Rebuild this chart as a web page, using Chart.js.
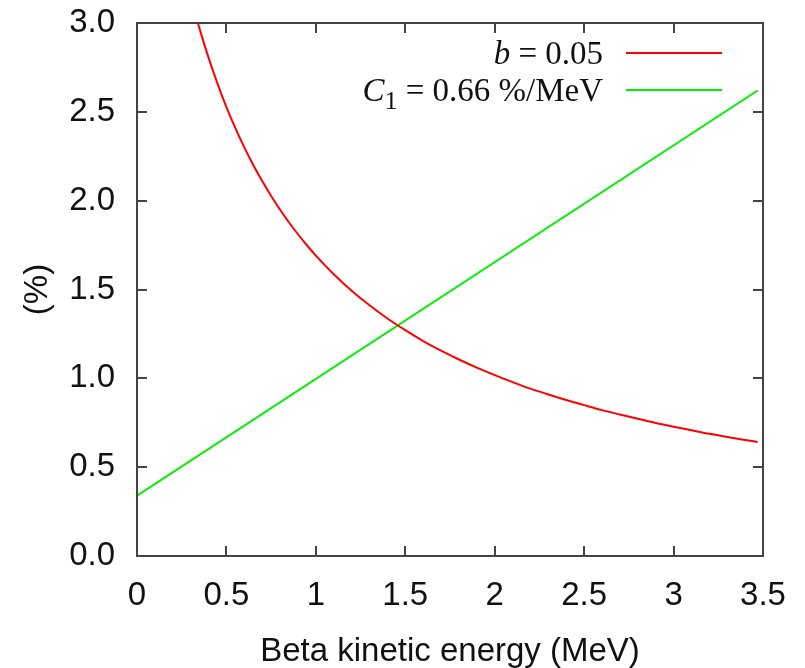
<!DOCTYPE html>
<html>
<head>
<meta charset="utf-8">
<script src="https://cdn.jsdelivr.net/npm/chart.js@4.4.1/dist/chart.umd.min.js"></script>
<style>
  html, body { margin: 0; padding: 0; background: #fff; }
  #chart { display: block; }
</style>
</head>
<body>
<canvas id="chart" width="805" height="668"></canvas>
<script>
// Fierz term, b = 0.05 (kinetic energy in MeV, size in %)
const fierzEnergy = [0.34, 0.36, 0.40, 0.45, 0.50, 0.55, 0.60, 0.65, 0.70, 0.75,
  0.80, 0.85, 0.90, 0.95, 1.00, 1.10, 1.20, 1.30, 1.40, 1.50,
  1.60, 1.70, 1.80, 1.90, 2.00, 2.10, 2.20, 2.30, 2.40, 2.50,
  2.60, 2.70, 2.80, 2.90, 3.00, 3.10, 3.20, 3.30, 3.40, 3.47];
const fierzPercent = [3.002, 2.933, 2.805, 2.659, 2.527, 2.408, 2.300, 2.201, 2.110, 2.026,
  1.949, 1.877, 1.811, 1.749, 1.691, 1.586, 1.493, 1.411, 1.337, 1.271,
  1.210, 1.156, 1.106, 1.060, 1.018, 0.979, 0.942, 0.909, 0.878, 0.849,
  0.821, 0.796, 0.772, 0.749, 0.728, 0.708, 0.688, 0.670, 0.653, 0.642];

// shape factor, C1 = 0.66 %/MeV
const slopeEnergy = [0, 3.47];
const slopePercent = [0.34, 2.62];

const xTicks = [0, 0.5, 1, 1.5, 2, 2.5, 3, 3.5];
const yTicks = [0, 0.5, 1, 1.5, 2, 2.5, 3];

const sansFont = "'Liberation Sans', Arial, sans-serif";
const serifFont = "'Liberation Serif', 'Times New Roman', serif";

function toPoints(xs, ys) {
  return xs.map((x, i) => ({ x: x, y: ys[i] }));
}

// legend entries: text pieces drawn right-aligned, sample line on the right
const legendRows = [
  { color: '#ff0000', pieces: [{ t: 'b', italic: true }, { t: ' = 0.05' }] },
  { color: '#00ee00', pieces: [{ t: 'C', italic: true }, { t: '1', sub: true }, { t: ' = 0.66 %/MeV' }] },
];

// gnuplot style box: frame plus inward ticks on all four sides
const framePlugin = {
  id: 'frame',
  afterDatasetsDraw(chart) {
    const { ctx, chartArea: a, scales } = chart;
    const tick = 10;
    ctx.save();
    ctx.strokeStyle = '#444';
    ctx.lineWidth = 2;
    ctx.beginPath();
    xTicks.forEach(v => {
      const px = Math.round(scales.x.getPixelForValue(v));
      if (px <= a.left + 1 || px >= a.right - 1) return;
      ctx.moveTo(px, a.bottom);
      ctx.lineTo(px, a.bottom - tick);
      ctx.moveTo(px, a.top);
      ctx.lineTo(px, a.top + tick);
    });
    yTicks.forEach(v => {
      const py = Math.round(scales.y.getPixelForValue(v));
      if (py <= a.top + 1 || py >= a.bottom - 1) return;
      ctx.moveTo(a.left, py);
      ctx.lineTo(a.left + tick, py);
      ctx.moveTo(a.right, py);
      ctx.lineTo(a.right - tick, py);
    });
    ctx.stroke();
    ctx.strokeRect(a.left, a.top, a.right - a.left, a.bottom - a.top);

    // legend
    const textRight = 603;
    const size = 33;
    ctx.textBaseline = 'alphabetic';
    ctx.textAlign = 'left';
    legendRows.forEach((row, i) => {
      const y = 53 + i * 37;
      let width = 0;
      row.pieces.forEach(p => {
        ctx.font = (p.italic ? 'italic ' : '') + (p.sub ? 26 : size) + 'px ' + serifFont;
        p.w = ctx.measureText(p.t).width;
        width += p.w;
      });
      let x = textRight - width;
      ctx.fillStyle = '#111';
      row.pieces.forEach(p => {
        ctx.font = (p.italic ? 'italic ' : '') + (p.sub ? 26 : size) + 'px ' + serifFont;
        ctx.fillText(p.t, x, y + 11 + (p.sub ? 8 : 0));
        x += p.w;
      });
      ctx.strokeStyle = row.color;
      ctx.lineWidth = 2;
      ctx.beginPath();
      ctx.moveTo(626, y);
      ctx.lineTo(722, y);
      ctx.stroke();
    });
    ctx.restore();
  }
};

new Chart(document.getElementById('chart'), {
  type: 'line',
  data: {
    datasets: [
      {
        label: 'b = 0.05',
        data: toPoints(fierzEnergy, fierzPercent),
        borderColor: '#ff0000',
        borderWidth: 2,
        pointRadius: 0,
        cubicInterpolationMode: 'monotone',
      },
      {
        label: 'C1 = 0.66 %/MeV',
        data: toPoints(slopeEnergy, slopePercent),
        borderColor: '#00ee00',
        borderWidth: 2,
        pointRadius: 0,
      },
    ],
  },
  options: {
    responsive: false,
    animation: false,
    layout: { padding: { top: 23, right: 42, left: 0, bottom: 0 } },
    plugins: {
      legend: { display: false },
      tooltip: { enabled: false },
    },
    scales: {
      x: {
        type: 'linear',
        min: 0,
        max: 3.5,
        afterBuildTicks: scale => { scale.ticks = xTicks.map(v => ({ value: v })); },
        afterFit: scale => {
          scale.height = 112;
          scale.paddingLeft = 0;
          scale.paddingRight = 0;
        },
        grid: { display: false, drawTicks: false },
        border: { display: false },
        ticks: {
          padding: 20,
          color: '#111',
          font: { family: sansFont, size: 33 },
          maxRotation: 0,
          callback: v => String(v),
        },
        title: {
          display: true,
          text: 'Beta kinetic energy (MeV)',
          color: '#111',
          font: { family: sansFont, size: 33 },
          padding: { top: 0, bottom: -4 },
        },
      },
      y: {
        min: 0,
        max: 3,
        afterBuildTicks: scale => { scale.ticks = yTicks.map(v => ({ value: v })); },
        afterFit: scale => {
          scale.width = 137;
          scale.paddingTop = 0;
          scale.paddingBottom = 0;
        },
        grid: { display: false, drawTicks: false },
        border: { display: false },
        ticks: {
          padding: 22,
          color: '#111',
          font: { family: sansFont, size: 33 },
          callback: v => v.toFixed(1),
        },
        title: {
          display: true,
          text: '(%)',
          color: '#111',
          font: { family: sansFont, size: 33 },
          padding: { top: 18, bottom: 0 },
        },
      },
    },
  },
  plugins: [framePlugin],
});
</script>
</body>
</html>
